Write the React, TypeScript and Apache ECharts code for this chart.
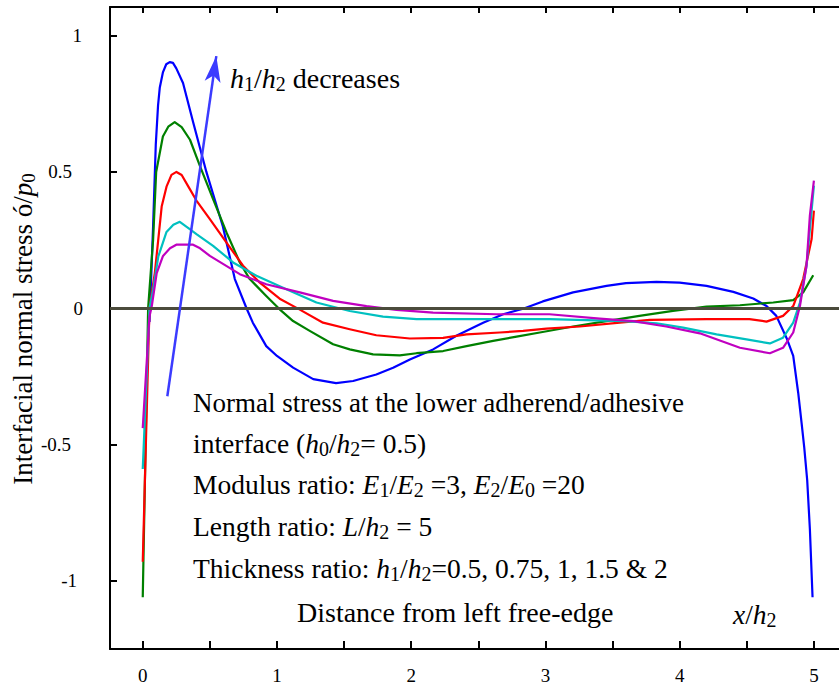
import React, { useEffect, useRef } from "react";
import * as echarts from "echarts";

// ---- data ----
const blueX = [0.05, 0.062, 0.077, 0.097, 0.114, 0.127, 0.15, 0.175, 0.201, 0.225, 0.25, 0.3, 0.375, 0.474, 0.597, 0.686, 0.773, 0.82, 0.92, 1.0, 1.12, 1.27, 1.44, 1.567, 1.74, 1.865, 1.99, 2.163, 2.34, 2.536, 2.685, 2.834, 2.98, 3.206, 3.455, 3.6, 3.828, 4.0, 4.2, 4.4, 4.548, 4.647, 4.72, 4.797, 4.846, 4.883, 4.908, 4.928, 4.95, 4.97, 4.99];
const blueY = [-0.05, 0.1, 0.3, 0.6, 0.744, 0.81, 0.865, 0.895, 0.903, 0.9, 0.88, 0.826, 0.683, 0.5, 0.3, 0.107, 0.0, -0.053, -0.139, -0.175, -0.218, -0.26, -0.275, -0.267, -0.243, -0.218, -0.188, -0.151, -0.1, -0.053, -0.022, -0.002, 0.025, 0.058, 0.082, 0.092, 0.097, 0.094, 0.082, 0.06, 0.036, 0.008, -0.028, -0.11, -0.175, -0.31, -0.42, -0.51, -0.63, -0.81, -1.06];

const greenX = [0, 0.04, 0.077, 0.1, 0.15, 0.19, 0.238, 0.29, 0.352, 0.425, 0.524, 0.624, 0.723, 0.797, 0.847, 0.92, 1.02, 1.12, 1.244, 1.418, 1.542, 1.716, 1.915, 2.04, 2.238, 2.412, 2.61, 2.785, 2.958, 3.206, 3.455, 3.7, 3.95, 4.2, 4.449, 4.697, 4.846, 4.92, 4.995];
const greenY = [-1.06, 0.0, 0.25, 0.5, 0.63, 0.666, 0.683, 0.664, 0.618, 0.523, 0.4, 0.278, 0.168, 0.107, 0.082, 0.045, -0.004, -0.047, -0.083, -0.132, -0.151, -0.169, -0.173, -0.165, -0.157, -0.139, -0.12, -0.104, -0.089, -0.067, -0.047, -0.028, -0.01, 0.006, 0.011, 0.021, 0.03, 0.058, 0.121];

const redX = [0, 0.05, 0.09, 0.141, 0.177, 0.214, 0.251, 0.29, 0.34, 0.4, 0.5, 0.624, 0.747, 0.872, 1.02, 1.17, 1.343, 1.542, 1.74, 1.99, 2.238, 2.412, 2.66, 2.834, 3.008, 3.256, 3.554, 3.778, 4.2, 4.52, 4.647, 4.77, 4.846, 4.92, 4.983, 5.0];
const redY = [-0.93, 0.0, 0.13, 0.373, 0.446, 0.489, 0.5, 0.489, 0.446, 0.395, 0.327, 0.241, 0.156, 0.094, 0.035, -0.005, -0.053, -0.077, -0.099, -0.111, -0.109, -0.096, -0.089, -0.083, -0.075, -0.067, -0.053, -0.043, -0.04, -0.04, -0.049, -0.028, 0.008, 0.107, 0.254, 0.358];

const cyanX = [0, 0.05, 0.077, 0.116, 0.177, 0.228, 0.276, 0.34, 0.4, 0.524, 0.673, 0.847, 1.07, 1.294, 1.542, 1.79, 2.04, 2.5, 3.03, 3.58, 3.828, 4.026, 4.275, 4.498, 4.672, 4.77, 4.846, 4.896, 4.945, 5.0];
const cyanY = [-0.59, 0.0, 0.068, 0.19, 0.28, 0.306, 0.317, 0.294, 0.272, 0.229, 0.168, 0.119, 0.07, 0.021, -0.01, -0.031, -0.04, -0.04, -0.04, -0.047, -0.055, -0.071, -0.096, -0.114, -0.129, -0.108, -0.053, 0.021, 0.156, 0.45];

const magentaX = [0, 0.05, 0.067, 0.104, 0.151, 0.203, 0.25, 0.375, 0.427, 0.5, 0.723, 0.92, 1.17, 1.418, 1.667, 1.89, 2.163, 2.636, 3.03, 3.405, 3.654, 3.9, 4.15, 4.449, 4.672, 4.77, 4.846, 4.896, 4.945, 4.97, 5.0];
const magentaY = [-0.44, -0.03, 0.007, 0.129, 0.192, 0.22, 0.233, 0.233, 0.22, 0.192, 0.125, 0.088, 0.058, 0.027, 0.008, -0.006, -0.016, -0.022, -0.022, -0.038, -0.047, -0.067, -0.092, -0.145, -0.165, -0.145, -0.089, 0.008, 0.156, 0.34, 0.468];

const seriesNames = ["h1/h2=0.5", "h1/h2=0.75", "h1/h2=1", "h1/h2=1.5", "h1/h2=2"];
const seriesColors = ["#0000ff", "#008000", "#ff0000", "#00c0c0", "#c000c0"];

const xTicks = [0, 0.5, 1, 1.5, 2, 2.5, 3, 3.5, 4, 4.5, 5];
const xLabelValues = [0, 1, 2, 3, 4, 5];
const yTicks = [-1, -0.5, 0, 0.5, 1];
const yTickLabels = ["-1", "-0.5", "0", "0.5", "1"];
const yLabelPad = [6, 12, 0, 11, 1];

const arrowStart = [0.183, -0.323];
const arrowEnd = [0.548, 0.925];

const FONT = "Liberation Serif";

const pairs = (xs: number[], ys: number[]) => xs.map((x, i) => [x, ys[i]]);

export default function App() {
  const ref = useRef<HTMLDivElement>(null);
  useEffect(() => {
    if (!ref.current) return;
    const chart = echarts.init(ref.current, null, { renderer: "svg" });
    const datasets = [
      pairs(blueX, blueY),
      pairs(greenX, greenY),
      pairs(redX, redY),
      pairs(cyanX, cyanY),
      pairs(magentaX, magentaY),
    ];
    const rich: any = {};
    yTicks.forEach((_, i) => {
      rich["p" + i] = {
        fontFamily: FONT,
        fontSize: 19,
        color: "#000",
        padding: [0, yLabelPad[i], 0, 0],
      };
    });
    const mkRich = (fs: number, sub: number) => ({
      r: { fontFamily: FONT, fontSize: fs, fill: "#000" },
      i: { fontFamily: FONT, fontSize: fs, fontStyle: "italic", fill: "#000" },
      s: { fontFamily: FONT, fontSize: sub, fill: "#000", padding: [11, 0, 0, 0] },
    });
    const txt = (x: number, y: number, text: string, fs = 27.5, sub = 20) => ({
      type: "text",
      x,
      y,
      silent: true,
      style: {
        text,
        fontFamily: FONT,
        fontSize: fs,
        fill: "#000",
        verticalAlign: "middle",
        align: "left",
        rich: mkRich(fs, sub),
      },
    });
    const option: any = {
      animation: false,
      backgroundColor: "#fff",
      grid: { left: 110, right: 0, top: 7, bottom: 40, containLabel: false },
      xAxis: [
        {
          type: "value",
          min: -0.244,
          max: 5.187,
          position: "bottom",
          axisLine: { show: true, onZero: false, lineStyle: { color: "#000", width: 2 } },
          axisTick: { show: true, inside: true, length: 8, customValues: xTicks, lineStyle: { color: "#000", width: 2 } },
          axisLabel: { customValues: xLabelValues, margin: 17, fontFamily: FONT, fontSize: 19, color: "#000" },
          splitLine: { show: false },
        },
        {
          type: "value",
          min: -0.244,
          max: 5.187,
          position: "top",
          axisLine: { show: true, onZero: false, lineStyle: { color: "#000", width: 2 } },
          axisTick: { show: true, inside: true, length: 6, customValues: xTicks, lineStyle: { color: "#000", width: 2 } },
          axisLabel: { show: false },
          splitLine: { show: false },
        },
      ],
      yAxis: {
        type: "value",
        min: -1.25,
        max: 1.105,
        axisLine: { show: true, onZero: false, lineStyle: { color: "#000", width: 2 } },
        axisTick: { show: true, inside: true, length: 7, customValues: yTicks, lineStyle: { color: "#000", width: 2 } },
        axisLabel: {
          customValues: yTicks,
          margin: 27,
          fontFamily: FONT,
          fontSize: 19,
          color: "#000",
          formatter: (v: number) => {
            const i = yTicks.findIndex((t) => Math.abs(t - v) < 1e-9);
            return i < 0 ? "" : `{p${i}|${yTickLabels[i]}}`;
          },
          rich,
        },
        splitLine: { show: false },
      },
      series: [
        ...datasets.map((d, i) => ({
          name: seriesNames[i],
          type: "line",
          data: d,
          showSymbol: false,
          symbol: "none",
          lineStyle: { color: seriesColors[i], width: 2.2, join: "round" },
          itemStyle: { color: seriesColors[i] },
          z: 2 + i * 0.01,
        })),
        {
          name: "zero",
          type: "line",
          data: [],
          z: 4,
          markLine: {
            silent: true,
            symbol: "none",
            label: { show: false },
            lineStyle: { color: "#4b4b3c", width: 3, type: "solid" },
            data: [{ yAxis: 0 }],
          },
        },
        {
          name: "arrow",
          type: "line",
          data: [],
          z: 5,
          markLine: {
            silent: true,
            symbol: ["none", "arrow"],
            symbolSize: [12, 26],
            label: { show: false },
            lineStyle: { color: "#3b3bff", width: 2.5, type: "solid" },
            data: [[{ coord: arrowStart }, { coord: arrowEnd }]],
          },
        },
      ],
      graphic: [
        txt(230, 78, "{i|h}{s|1}{r|/}{i|h}{s|2}{r| decreases}", 28, 20),
        txt(193, 403, "{r|Normal stress at the lower adherend/adhesive}", 27),
        txt(193, 443, "{r|interface (}{i|h}{s|0}{r|/}{i|h}{s|2}{r|= 0.5)}"),
        txt(193, 484, "{r|Modulus ratio: }{i|E}{s|1}{r|/}{i|E}{s|2}{r| =3, }{i|E}{s|2}{r|/}{i|E}{s|0}{r| =20}"),
        txt(193, 526, "{r|Length ratio: }{i|L}{r|/}{i|h}{s|2}{r| = 5}"),
        txt(193, 568, "{r|Thickness ratio: }{i|h}{s|1}{r|/}{i|h}{s|2}{r|=0.5, 0.75, 1, 1.5 & 2}"),
        txt(297, 612, "{r|Distance from left free-edge}", 28),
        txt(733, 614, "{i|x}{r|/}{i|h}{s|2}", 27.5, 20),
        {
          type: "text",
          x: 23,
          y: 329,
          rotation: Math.PI / 2,
          silent: true,
          style: {
            text: "{r|Interfacial normal stress ó/}{i|p}{s|0}",
            fontFamily: FONT,
            fontSize: 27,
            fill: "#000",
            align: "center",
            verticalAlign: "middle",
            rich: mkRich(27, 19),
          },
        },
      ],
    };
    chart.setOption(option);
    return () => chart.dispose();
  }, []);
  return (
    <div
      ref={ref}
      style={{ position: "fixed", left: 0, top: 0, width: 839, height: 689, background: "#fff" }}
    />
  );
}
